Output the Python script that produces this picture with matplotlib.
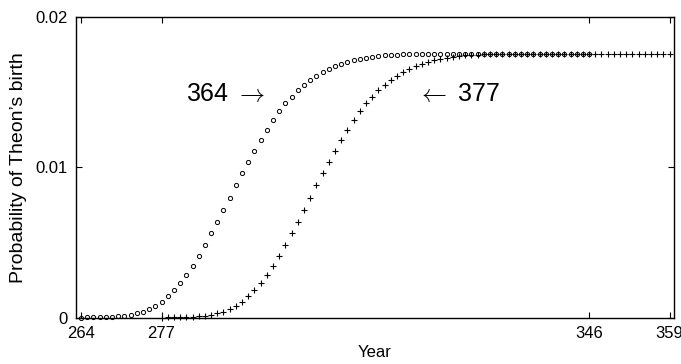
import matplotlib
matplotlib.use("Agg")
import matplotlib.pyplot as plt

plt.rcParams['font.family'] = ['Liberation Sans', 'DejaVu Sans']
plt.rcParams['mathtext.fontset'] = 'cm'

years_364 = list(range(264, 347))
prob_364 = [0.00000, 0.00001, 0.00001, 0.00002, 0.00003, 0.00005, 0.00008, 0.00012,
            0.00019, 0.00027, 0.00038, 0.00055, 0.00077, 0.00103, 0.00140, 0.00183,
            0.00230, 0.00281, 0.00343, 0.00410, 0.00483, 0.00560, 0.00637, 0.00717,
            0.00797, 0.00880, 0.00960, 0.01035, 0.01110, 0.01182, 0.01249, 0.01313,
            0.01373, 0.01425, 0.01470, 0.01513, 0.01550, 0.01580, 0.01610, 0.01637,
            0.01657, 0.01675, 0.01690, 0.01703, 0.01713, 0.01722, 0.01730, 0.01736,
            0.01740, 0.01744, 0.01747, 0.01750, 0.01752, 0.01753, 0.01754, 0.01755,
            0.01755, 0.01755, 0.01755, 0.01755, 0.01755, 0.01755, 0.01755, 0.01755,
            0.01755, 0.01755, 0.01755, 0.01755, 0.01755, 0.01755, 0.01755, 0.01755,
            0.01755, 0.01755, 0.01755, 0.01755, 0.01755, 0.01755, 0.01755, 0.01755,
            0.01755, 0.01755, 0.01755]

years_377 = list(range(277, 360))
prob_377 = [0.00000, 0.00001, 0.00001, 0.00002, 0.00003, 0.00005, 0.00008, 0.00012,
            0.00019, 0.00027, 0.00038, 0.00055, 0.00077, 0.00103, 0.00140, 0.00183,
            0.00230, 0.00281, 0.00343, 0.00410, 0.00483, 0.00560, 0.00637, 0.00717,
            0.00797, 0.00880, 0.00960, 0.01035, 0.01110, 0.01182, 0.01249, 0.01313,
            0.01373, 0.01425, 0.01470, 0.01513, 0.01550, 0.01580, 0.01610, 0.01637,
            0.01657, 0.01675, 0.01690, 0.01703, 0.01713, 0.01722, 0.01730, 0.01736,
            0.01740, 0.01744, 0.01747, 0.01750, 0.01752, 0.01753, 0.01754, 0.01755,
            0.01755, 0.01755, 0.01755, 0.01755, 0.01755, 0.01755, 0.01755, 0.01755,
            0.01755, 0.01755, 0.01755, 0.01755, 0.01755, 0.01755, 0.01755, 0.01755,
            0.01755, 0.01755, 0.01755, 0.01755, 0.01755, 0.01755, 0.01755, 0.01755,
            0.01755, 0.01755, 0.01755]

x_ticks = [264, 277, 346, 359]
y_ticks = [0, 0.01, 0.02]
y_tick_labels = ['0', '0.01', '0.02']
label_364 = '364 $\\rightarrow$'
label_377 = '$\\leftarrow$ 377'

fig = plt.figure(figsize=(6.81, 3.64), dpi=100)
ax = fig.add_axes([76/681, 1 - 317.5/364, (674 - 76)/681, (317.5 - 17)/364])

ax.plot(years_364, prob_364, linestyle='none', marker='o', markersize=3.0,
        markerfacecolor='none', markeredgecolor='black', markeredgewidth=0.7, clip_on=False)
ax.plot(years_377, prob_377, linestyle='none', marker='+', markersize=5.0,
        color='black', markeredgewidth=0.8, clip_on=False)

ax.set_xlim(263.2, 359.7)
ax.set_ylim(0, 0.02)
ax.set_xticks(x_ticks)
ax.set_xticklabels([str(t) for t in x_ticks])
ax.set_yticks(y_ticks)
ax.set_yticklabels(y_tick_labels)
ax.tick_params(direction='in', length=4, width=0.8, top=True, right=True,
               labelsize=12, colors='black')
ax.tick_params(axis='x', pad=6)
ax.tick_params(axis='y', pad=6)
for s in ax.spines.values():
    s.set_linewidth(1.0)

ax.set_xlabel('Year', fontsize=12, labelpad=3)
ax.set_ylabel('Probability of Theon\u2019s birth', fontsize=14, labelpad=6)

ax.text(281.0, 0.0144, label_364, fontsize=18, ha='left', va='baseline')
ax.text(318.2, 0.0144, label_377, fontsize=18, ha='left', va='baseline')

fig.savefig('out.png', dpi=100)
